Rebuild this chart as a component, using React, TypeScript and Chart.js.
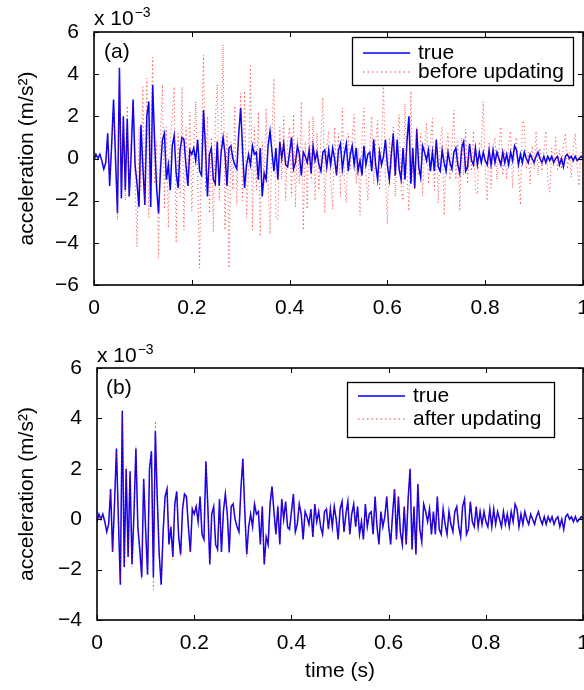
import React, { useEffect, useRef } from 'react';
import { Chart, registerables } from 'chart.js';

Chart.register(...registerables);

const FONT = "'Liberation Sans', Arial, Helvetica, sans-serif";

// sampling interval of the records (s)
const DT = 0.004;

// x-axis ticks (time, s)
const X_TICKS = [0, 0.2, 0.4, 0.6, 0.8, 1];
const X_TICK_LABELS = ['0', '0.2', '0.4', '0.6', '0.8', '1'];

// y-axis ticks (x 10^-3 m/s^2)
const Y_TICKS_A = [-6, -4, -2, 0, 2, 4, 6];
const Y_TICKS_B = [-4, -2, 0, 2, 4, 6];

// true acceleration (x 10^-3 m/s^2), one value every DT
const TRUE_ACC = [
  -0.1, 0.2, 0.0, 0.2, -0.1, -0.5, -0.2, 1.2, -1.3, 0.6,
  2.8, 0.0, -2.6, 4.3, -1.9, 2.0, -1.5, 1.9, -1.8, 0.2,
  2.8, -0.3, -1.2, -2.3, 1.6, -0.4, -2.2, 2.0, 2.7, -2.3,
  3.5, 0.8, -1.4, -2.6, -0.5, 0.9, 1.2, -1.0, -0.3, -1.5,
  0.6, 1.1, -0.7, -1.4, 0.4, 1.0, 0.9, -0.3, -1.3, 0.4,
  0.2, 0.5, -0.1, 0.9, -0.6, -0.8, 2.3, 0.5, -1.8, 0.2,
  0.5, -1.0, -1.2, 0.8, -1.3, 0.3, 1.0, 0.2, -1.3, 0.5,
  0.6, 0.0, -0.3, -0.5, 1.2, 2.4, 0.3, -1.4, -0.3, 0.2,
  -0.3, 0.6, 0.2, 0.3, -1.0, 0.5, -1.8, -0.7, -1.0, 0.6,
  1.3, 0.3, -0.6, 0.5, -1.0, 0.8, 0.0, 0.7, -0.3, -0.4,
  0.3, 1.0, -0.5, -0.2, 0.6, 0.2, -0.8, 0.3, 0.1, -0.2,
  0.4, -0.7, 0.6, -0.1, 0.3, -0.3, -0.6, 0.3, 0.4, -0.4,
  0.4, -0.3, 0.5, 0.0, -0.8, 0.4, 0.7, -0.5, 0.2, 0.7,
  -0.6, 0.2, 0.6, -0.3, 0.5, -0.6, -0.1, -0.8, 0.6, -0.3,
  0.2, 0.3, -0.6, 0.9, -0.3, -1.0, 0.3, -0.3, 0.1, 0.9,
  -0.3, -1.0, 0.2, 1.2, -0.8, 0.9, -0.5, -1.0, 0.5, -1.0,
  0.8, 2.0, -1.2, 0.5, -1.4, 1.4, -0.4, -0.9, 0.6, 0.3,
  -0.1, 0.4, -0.6, 0.3, -0.6, 0.9, -0.4, -0.6, 0.4, -0.2,
  -0.6, 0.3, -0.2, -0.5, 0.3, 0.5, -0.3, -0.7, 0.5, 0.8,
  -0.6, -0.4, 0.7, -0.1, -0.3, 0.5, -0.3, 0.3, -0.2, 0.3,
  -0.1, -0.3, 0.4, -0.3, 0.4, -0.2, 0.3, 0.0, -0.3, 0.3,
  -0.2, 0.2, -0.3, 0.3, -0.1, 0.6, 0.4, -0.3, 0.2, -0.2,
  0.3, 0.0, -0.2, 0.2, 0.0, -0.2, 0.1, 0.3, 0.0, -0.2,
  0.1, -0.2, 0.1, -0.1, 0.1, -0.2, 0.0, 0.1, -0.3, 0.0,
  -0.4, 0.1, 0.2, 0.0, 0.1, -0.1, 0.1, -0.1, 0.0, 0.1,
  0.0,
];

// identified model before updating
const BEFORE_ACC = [
  0.0, 0.2, 0.0, 0.1, -0.1, -0.4, -0.3, 1.0, -1.1, 0.4,
  2.3, 0.5, -2.9, 4.3, -1.5, 1.8, -2.0, 2.5, -1.8, 1.2,
  2.6, -1.0, -4.2, 1.5, -1.5, 3.4, -2.2, 3.8, -2.8, 1.0,
  4.8, -1.2, 0.8, -4.7, 1.2, 3.5, -2.4, 1.5, -3.3, 0.8,
  2.0, 3.4, -4.0, 1.2, -1.8, 3.4, -3.4, 1.5, -1.0, 2.2,
  -2.5, 0.5, 2.7, -1.0, -5.2, 1.0, 4.9, -1.5, 2.0, -2.6,
  1.0, -3.5, 1.8, 3.5, -2.0, 1.0, 5.4, -3.4, 1.2, -5.2,
  0.8, -1.5, 2.5, -2.2, 1.0, 3.1, -2.0, 3.2, -2.8, -0.5,
  4.4, -3.4, 1.5, -1.5, 2.2, -3.7, 0.8, -1.2, 2.4, -1.0,
  -3.6, 1.2, 3.8, -2.8, -2.9, 1.5, -1.0, 2.0, -2.0, 0.8,
  1.5, -1.8, 2.1, -2.3, 1.0, -1.2, 2.7, -3.4, 0.8, -2.4,
  1.8, -1.0, 2.0, -2.0, 1.2, -1.5, 1.0, 2.9, -2.6, 0.5,
  1.3, -1.0, -2.4, 1.5, -0.8, 1.2, -1.8, 2.4, -1.0, -2.1,
  1.2, -0.5, 1.0, 2.1, -1.2, 0.5, -2.7, 1.0, 2.4, -0.8,
  -2.0, 0.5, 2.0, -1.2, 0.8, 1.8, -1.5, 0.5, 3.7, -1.0,
  -3.1, 1.0, -0.5, 1.5, -1.8, 0.5, 2.1, -1.5, -2.0, 2.6,
  -0.8, -2.5, 3.2, -1.0, -1.5, 1.5, -0.8, 1.2, -1.8, 0.5,
  1.7, -1.2, 0.8, 1.9, -1.5, 0.6, -2.1, 0.8, 1.5, -2.7,
  0.5, 1.2, -1.0, 0.6, 2.3, -1.0, 0.8, -2.5, 1.0, -0.8,
  1.4, -1.2, 0.6, -0.6, 1.3, -1.5, -1.7, 0.8, 0.5, 2.7,
  -0.5, -2.0, 0.8, -1.4, 0.6, 1.0, -1.0, 0.5, 1.5, -0.8,
  0.4, -1.0, 0.8, 1.3, -1.4, 0.5, 1.0, -0.6, -2.2, 1.8,
  1.6, -0.5, 0.3, -1.2, 0.6, -0.5, 1.3, -0.8, 0.5, -0.6,
  0.4, 1.3, -1.1, -1.6, 0.5, -0.4, 1.0, -0.6, 0.4, -0.5,
  0.6, 1.2, -0.5, 0.3, -0.9, 0.4, 1.2, -0.4, -1.3, 0.3,
  0.0,
];

// identified model after updating
const AFTER_ACC = [
  -0.1, 0.2, 0.0, 0.2, -0.1, -0.5, -0.2, 1.1, -1.3, 0.6,
  2.7, 0.1, -2.5, 4.2, -1.9, 2.1, -1.5, 1.8, -1.9, 0.3,
  2.9, -0.3, -1.1, -2.4, 1.6, -0.5, -2.2, 2.1, 2.6, -2.8,
  3.9, 0.7, -1.4, -2.5, -0.6, 0.9, 1.3, -1.0, -0.2, -1.6,
  0.6, 1.0, -0.7, -1.5, 0.5, 1.0, 0.8, -0.3, -1.3, 0.5,
  0.2, 0.6, -0.1, 0.8, -0.6, -0.9, 2.2, 0.5, -1.8, 0.3,
  0.5, -1.0, -1.3, 0.8, -1.2, 0.3, 1.1, 0.2, -1.4, 0.5,
  0.7, 0.0, -0.3, -0.5, 1.1, 2.3, 0.3, -1.5, -0.3, 0.2,
  -0.3, 0.7, 0.2, 0.3, -1.0, 0.5, -1.7, -0.7, -1.1, 0.6,
  1.2, 0.3, -0.6, 0.6, -1.0, 0.8, 0.0, 0.7, -0.4, -0.4,
  0.3, 1.0, -0.4, -0.2, 0.6, 0.2, -0.8, 0.3, 0.1, -0.3,
  0.4, -0.7, 0.6, -0.1, 0.4, -0.3, -0.6, 0.3, 0.5, -0.4,
  0.4, -0.3, 0.5, 0.0, -0.8, 0.5, 0.7, -0.5, 0.2, 0.7,
  -0.6, 0.3, 0.6, -0.3, 0.5, -0.6, -0.1, -0.8, 0.6, -0.3,
  0.2, 0.3, -0.6, 0.9, -0.3, -1.0, 0.3, -0.3, 0.1, 0.9,
  -0.3, -1.0, 0.2, 1.2, -0.8, 0.9, -0.5, -1.0, 0.5, -1.0,
  0.8, 1.9, -1.2, 0.5, -1.4, 1.3, -0.4, -0.9, 0.6, 0.3,
  -0.1, 0.4, -0.6, 0.3, -0.6, 0.9, -0.4, -0.6, 0.4, -0.2,
  -0.6, 0.3, -0.2, -0.5, 0.3, 0.5, -0.3, -0.7, 0.5, 0.8,
  -0.6, -0.4, 0.7, -0.1, -0.3, 0.5, -0.3, 0.3, -0.2, 0.3,
  -0.1, -0.3, 0.4, -0.3, 0.4, -0.2, 0.3, 0.0, -0.3, 0.3,
  -0.2, 0.2, -0.3, 0.3, -0.1, 0.6, 0.4, -0.3, 0.2, -0.2,
  0.3, 0.0, -0.2, 0.2, 0.0, -0.2, 0.1, 0.3, 0.0, -0.2,
  0.1, -0.2, 0.1, -0.1, 0.1, -0.2, 0.0, 0.1, -0.3, 0.0,
  -0.4, 0.1, 0.2, 0.0, 0.1, -0.1, 0.1, -0.1, 0.0, 0.1,
  0.0,
];

const SERIES_TRUE = 'true';
const SERIES_BEFORE = 'before updating';
const SERIES_AFTER = 'after updating';
const Y_TITLE = 'acceleration (m/s\u00B2)';
const X_TITLE = 'time (s)';

const BLUE = '#0000ff';
const RED_DOT = 'rgba(255,0,0,0.75)';

const toPoints = (vals: number[]) => vals.map((v, i) => ({ x: i * DT, y: v }));
const fmtY = (v: number) => (v < 0 ? '\u2212' + Math.abs(v) : String(v));

const framePlugin = {
  id: 'frame',
  afterDraw(chart: any, _args: any, o: any) {
    const { ctx, chartArea } = chart;
    const { left, right, top, bottom } = chartArea;
    const xs = chart.scales.x;
    const ys = chart.scales.y;
    ctx.save();
    ctx.strokeStyle = '#000';
    ctx.fillStyle = '#000';
    ctx.lineWidth = 1;
    ctx.beginPath();
    xs.ticks.forEach((t: any) => {
      const p = Math.round(xs.getPixelForValue(t.value)) + 0.5;
      ctx.moveTo(p, bottom);
      ctx.lineTo(p, bottom - 5);
      ctx.moveTo(p, top);
      ctx.lineTo(p, top + 5);
    });
    ys.ticks.forEach((t: any) => {
      const p = Math.round(ys.getPixelForValue(t.value)) + 0.5;
      ctx.moveTo(left, p);
      ctx.lineTo(left + 5, p);
      ctx.moveTo(right, p);
      ctx.lineTo(right - 5, p);
    });
    ctx.stroke();
    ctx.lineWidth = 1.6;
    ctx.strokeRect(Math.round(left), Math.round(top), Math.round(right - left), Math.round(bottom - top));

    // exponent label
    ctx.textBaseline = 'alphabetic';
    ctx.textAlign = 'left';
    ctx.font = `21px ${FONT}`;
    ctx.fillText('x 10', o.expX, o.expY);
    const w = ctx.measureText('x 10').width;
    ctx.font = `14px ${FONT}`;
    ctx.fillText('\u22123', o.expX + w + 1, o.expY - 8);

    // panel label
    ctx.font = `21px ${FONT}`;
    ctx.fillText(o.panel, o.panelX, o.panelY);

    // legend
    const L = o.legend;
    ctx.fillStyle = '#fff';
    ctx.fillRect(L.x, L.y, L.w, L.h);
    ctx.lineWidth = 1.3;
    ctx.strokeStyle = '#000';
    ctx.strokeRect(L.x + 0.5, L.y + 0.5, L.w, L.h);
    ctx.lineWidth = 1.4;
    ctx.strokeStyle = BLUE;
    ctx.beginPath();
    ctx.moveTo(L.lx1, L.r1);
    ctx.lineTo(L.lx2, L.r1);
    ctx.stroke();
    ctx.lineWidth = 1.2;
    ctx.strokeStyle = RED_DOT;
    ctx.setLineDash([1.5, 3]);
    ctx.beginPath();
    ctx.moveTo(L.lx1, L.r2);
    ctx.lineTo(L.lx2, L.r2);
    ctx.stroke();
    ctx.setLineDash([]);
    ctx.fillStyle = '#000';
    ctx.font = `21px ${FONT}`;
    ctx.textBaseline = 'middle';
    ctx.fillText(L.t1, L.tx, L.r1);
    ctx.fillText(L.t2, L.tx, L.r2);
    ctx.restore();
  },
};

type PanelProps = {
  top: number;
  width: number;
  height: number;
  area: { left: number; top: number; right: number; bottom: number };
  yTicks: number[];
  red: number[];
  redLabel: string;
  frame: any;
  xTitle?: string;
};

function Panel(p: PanelProps) {
  const ref = useRef<HTMLCanvasElement>(null);
  useEffect(() => {
    if (!ref.current) return;
    const yMin = p.yTicks[0];
    const yMax = p.yTicks[p.yTicks.length - 1];
    const chart = new Chart(ref.current, {
      type: 'line',
      data: {
        datasets: [
          {
            label: p.redLabel,
            data: toPoints(p.red),
            borderColor: RED_DOT,
            borderWidth: 1,
            borderDash: [1, 3],
            pointRadius: 0,
            tension: 0,
            order: 0,
          },
          {
            label: SERIES_TRUE,
            data: toPoints(TRUE_ACC),
            borderColor: BLUE,
            borderWidth: 1.5,
            pointRadius: 0,
            tension: 0,
            order: 1,
          },
        ],
      },
      options: {
        responsive: false,
        animation: false,
        devicePixelRatio: 1,
        events: [],
        layout: {
          padding: { left: 0, top: p.area.top, right: p.width - p.area.right, bottom: 0 },
        },
        plugins: {
          legend: { display: false },
          tooltip: { enabled: false },
          frame: p.frame,
        } as any,
        scales: {
          x: {
            type: 'linear',
            position: 'bottom',
            min: 0,
            max: 1,
            afterBuildTicks: (s: any) => {
              s.ticks = X_TICKS.map((v) => ({ value: v }));
            },
            afterFit: (s: any) => {
              s.height = p.height - p.area.bottom;
            },
            ticks: {
              autoSkip: false,
              maxRotation: 0,
              padding: 11,
              color: '#000',
              font: { family: FONT, size: 21 },
              callback: (_v: any, i: number) => X_TICK_LABELS[i],
            },
            grid: { display: false, drawTicks: false },
            border: { display: false },
            title: {
              display: !!p.xTitle,
              text: p.xTitle || '',
              color: '#000',
              font: { family: FONT, size: 21 },
              padding: { top: 0, bottom: 6 },
            },
          },
          y: {
            type: 'linear',
            min: yMin,
            max: yMax,
            afterBuildTicks: (s: any) => {
              s.ticks = p.yTicks.map((v) => ({ value: v }));
            },
            afterFit: (s: any) => {
              s.width = p.area.left;
            },
            ticks: {
              padding: 15,
              color: '#000',
              font: { family: FONT, size: 21 },
              callback: (v: any) => fmtY(Number(v)),
            },
            grid: { display: false, drawTicks: false },
            border: { display: false },
            title: {
              display: true,
              text: Y_TITLE,
              color: '#000',
              font: { family: FONT, size: 21 },
              padding: { top: 15, bottom: 0 },
            },
          },
        },
      } as any,
      plugins: [framePlugin],
    });
    return () => chart.destroy();
  }, []);
  return (
    <canvas
      ref={ref}
      width={p.width}
      height={p.height}
      style={{ position: 'absolute', left: 0, top: p.top, display: 'block' }}
    />
  );
}

export default function App() {
  return (
    <div
      style={{
        position: 'absolute',
        left: 0,
        top: 0,
        width: 584,
        height: 690,
        overflow: 'hidden',
        background: '#fff',
      }}
    >
      <Panel
        top={0}
        width={600}
        height={330}
        area={{ left: 94, top: 32, right: 583, bottom: 285 }}
        yTicks={Y_TICKS_A}
        red={BEFORE_ACC}
        redLabel={SERIES_BEFORE}
        frame={{
          expX: 94,
          expY: 25,
          panel: '(a)',
          panelX: 104,
          panelY: 58,
          legend: {
            x: 352, y: 37, w: 221, h: 48,
            lx1: 363, lx2: 410, r1: 53, r2: 72, tx: 418,
            t1: SERIES_TRUE, t2: SERIES_BEFORE,
          },
        }}
      />
      <Panel
        top={330}
        width={600}
        height={360}
        area={{ left: 97, top: 38, right: 587, bottom: 290 }}
        yTicks={Y_TICKS_B}
        red={AFTER_ACC}
        redLabel={SERIES_AFTER}
        xTitle={X_TITLE}
        frame={{
          expX: 97,
          expY: 32,
          panel: '(b)',
          panelX: 106,
          panelY: 64,
          legend: {
            x: 347, y: 52, w: 207, h: 55,
            lx1: 358, lx2: 405, r1: 66, r2: 89, tx: 413,
            t1: SERIES_TRUE, t2: SERIES_AFTER,
          },
        }}
      />
    </div>
  );
}
